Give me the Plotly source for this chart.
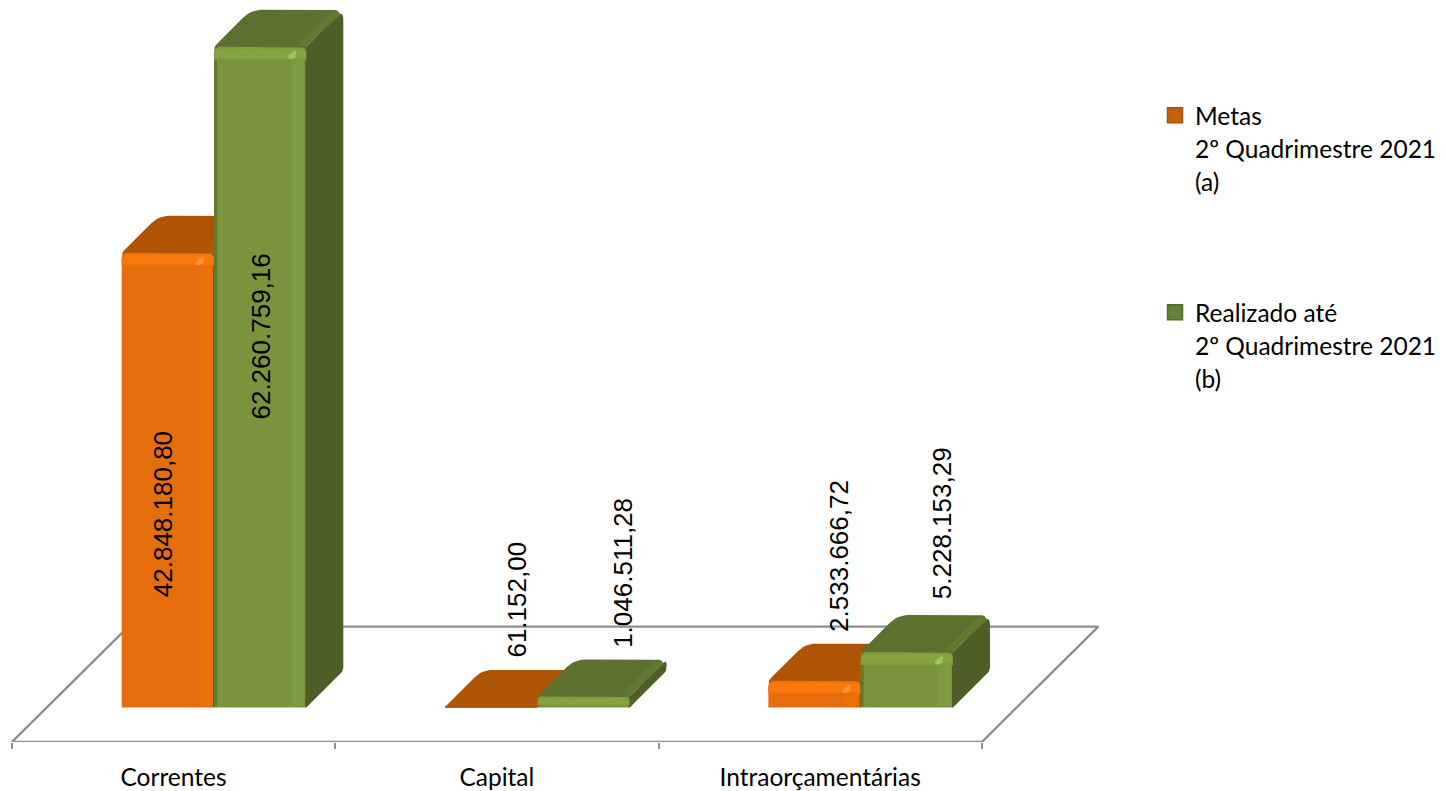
import math
import plotly.graph_objects as go

# ---------- data ----------
categories = ["Correntes", "Capital", "Intraorçamentárias"]
metas = [42848180.80, 61152.00, 2533666.72]
realizado = [62260759.16, 1046511.28, 5228153.29]
legend_first = ["Metas", "Realizado até"]
legend_rest = [["2º Quadrimestre 2021", "(a)"], ["2º Quadrimestre 2021", "(b)"]]

# ---------- scale / geometry (pixels) ----------
W, H = 1446, 791
PX_CAT = 323.33          # px per category
PX_VAL = 10.62 / 1e6     # px per unit of value
X0_PX = 173.5            # px of category 0
BASE_PX = 708.0          # px of value 0
AXIS_PX = 742.5          # px of plot bottom
DEPTH = 37.0             # px of bar depth
BAR_PX = 92.3
SHIFT_PX = 40.5
pos = list(range(len(categories)))

x_range = [-X0_PX / PX_CAT, (W - X0_PX) / PX_CAT]
y_range = [(BASE_PX - AXIS_PX) / PX_VAL, BASE_PX / PX_VAL]

# colours
OR = dict(main="#E56D0B", soft="#EB700A", mid="#F1730A", light="#FC780A", top="#AF5305", edge="#B55707",
          side="#8F4504", dark=None, spot="#FF9638")
GR = dict(main="#7A943E", soft="#7E9A40", mid="#7F9C40", light="#85A340", top="#5C7030", edge="#617A31",
          side="#4E5E27", dark="#62792F", spot="#A5C05E")
GREY = "#8E8E8E"


def rounded(pts):
    """pts: (x, y, r) in px; returns a smoothed outline."""
    out = []
    n = len(pts)
    for k in range(n):
        ax, ay, _ = pts[k - 1]
        px, py, r = pts[k]
        bx, by, _ = pts[(k + 1) % n]
        la = math.hypot(ax - px, ay - py)
        lb = math.hypot(bx - px, by - py)
        r = min(r, la / 2, lb / 2)
        if r <= 0:
            out.append((px, py))
            continue
        sx, sy = px + (ax - px) * r / la, py + (ay - py) * r / la
        ex, ey = px + (bx - px) * r / lb, py + (by - py) * r / lb
        for s in range(7):
            t = s / 6
            out.append(((1 - t) ** 2 * sx + 2 * t * (1 - t) * px + t * t * ex,
                        (1 - t) ** 2 * sy + 2 * t * (1 - t) * py + t * t * ey))
    return out


class Faces:
    def __init__(self):
        self.x, self.y = [], []

    def add(self, i, val, left_px, pts):
        """pts relative to the front-top-left corner of a bar: dx right, dy down, in px."""
        for dx, dy in rounded(pts):
            self.x.append(i + (left_px + dx) / PX_CAT)
            self.y.append(val - dy / PX_VAL)
        self.x.append(None)
        self.y.append(None)


def poly_trace(f, color, name, xa, ya):
    return go.Scatter(x=f.x, y=f.y, mode="lines", fill="toself", fillcolor=color,
                      line=dict(width=0, color=color), hoverinfo="skip", showlegend=False,
                      name=name, xaxis=xa, yaxis=ya)


def series(values, left_px, col, name, xa, ya):
    side, top, edge, soft, mid, light, dark, spot = (Faces() for _ in range(8))
    w = BAR_PX
    d = DEPTH
    for i, v in zip(pos, values):
        h = v * PX_VAL
        band = min(13, h * 0.8)
        lim = min(band, 8) if h > 6 else h
        side.add(i, v, left_px, [(w - 1, 0, 0), (w, 0, 0), (w + d, -d, 10), (w + d, h - d, 3),
                                 (w, h, 10), (w - 1, h, 0)])
        top.add(i, v, left_px, [(0, lim, 0), (0, 0, 10), (d, -d, 11), (w + d, -d, 11), (w, 0, 0), (w, lim, 0)])
        if h > 6:
            edge.add(i, v, left_px, [(w - 9, -1, 2), (w + d - 11, -d + 1, 4), (w + d - 1, -d + 3, 5), (w, -1, 2)])
            mid.add(i, v, left_px, [(0, 0, 7), (w, 0, 7), (w, band, 0), (0, band, 0)])
            light.add(i, v, left_px, [(1, 2, 6), (w - 1, 2, 6), (w - 1, band * 0.85, 0), (1, band * 0.85, 0)])
            soft.add(i, v, left_px, [(w - 15, band * 0.85, 0), (w - 2, band * 0.85, 0), (w - 2, h - 1, 6), (w - 15, h - 1, 0)])
            if col["dark"]:
                dark.add(i, v, left_px, [(0, band, 0), (3, band, 0), (3, h - 1, 0), (0, h - 1, 0)])
        if h > 20:
            spot.add(i, v, left_px, [(w - 18, 8, 3), (w - 10, 3, 3), (w - 10, 11, 3), (w - 18, 13, 3)])
    bar = go.Bar(x=pos, y=values, width=w / PX_CAT, offset=left_px / PX_CAT,
                 marker=dict(color=col["main"], line=dict(width=0)), name=name,
                 showlegend=False, hoverinfo="skip", xaxis=xa, yaxis=ya)
    out = [bar,
           poly_trace(side, col["side"], name + " lateral", xa, ya),
           poly_trace(top, col["top"], name + " topo", xa, ya),
           poly_trace(edge, col["edge"], name + " aresta", xa, ya),
           poly_trace(soft, col["soft"], name + " faixa", xa, ya),
           poly_trace(mid, col["mid"], name + " faixa superior", xa, ya),
           poly_trace(light, col["light"], name + " brilho", xa, ya)]
    if col["dark"]:
        out.append(poly_trace(dark, col["dark"], name + " sombra", xa, ya))
    out.append(poly_trace(spot, col["spot"], name + " reflexo", xa, ya))
    return out


# floor
fl_left = -0.5
fl_right = pos[-1] + 0.5
fl_bot = y_range[0]
fl_dx = 116.5 / PX_CAT
fl_dy = 115.5 / PX_VAL
floor = go.Scatter(x=[fl_left, fl_right, fl_right + fl_dx, fl_left + fl_dx, fl_left],
                   y=[fl_bot, fl_bot, fl_bot + fl_dy, fl_bot + fl_dy, fl_bot],
                   mode="lines", line=dict(color=GREY, width=2.4), hoverinfo="skip",
                   showlegend=False, name="Plano", cliponaxis=False)

left_or = SHIFT_PX - BAR_PX
left_gr = SHIFT_PX

traces = [floor]
traces += series(metas, left_or, OR, "Metas 2º Quadrimestre 2021 (a)", "x2", "y2")
traces += series(realizado, left_gr, GR, "Realizado até 2º Quadrimestre 2021 (b)", "x3", "y3")

# legend entries
legend_colors = [("#C4600E", "#A85208"), ("#66803A", "#526A2C")]
for nm, (c, lc) in zip(legend_first, legend_colors):
    traces.append(go.Scatter(x=[None], y=[None], mode="markers", name=nm, legendgroup=nm,
                             marker=dict(symbol="square", size=15, color=c, line=dict(color=lc, width=1.5))))

fig = go.Figure(traces)


def br(v):
    return f"{v:,.2f}".replace(",", "#").replace(".", ",").replace("#", ".")


# value labels: offset from bar's left edge and height of the text's lower end above base (px)
label_dx = [[41, 71, 70], [47, 85, 81]]
label_up = [[108, 48, 74], [286, 58, 106]]
annotations = []
for s, (vals, left) in enumerate([(metas, left_or), (realizado, left_gr)]):
    for i, v in zip(pos, vals):
        annotations.append(dict(text=br(v), x=i + left / PX_CAT, y=0, xref="x", yref="y",
                                xshift=label_dx[s][i], yshift=label_up[s][i], yanchor="bottom",
                                xanchor="center", textangle=-90, showarrow=False,
                                font=dict(family="Liberation Sans", size=26, color="#000000")))

# remaining legend lines
FONT_PX = 24.5
LINE_PITCH = 33
legend_tops = [149, 346]
for rest, y0 in zip(legend_rest, legend_tops):
    for k, line in enumerate(rest):
        annotations.append(dict(text=line, x=1195 / W, y=1 - (y0 + k * LINE_PITCH) / AXIS_PX,
                                xref="paper", yref="paper", xanchor="left", yanchor="middle",
                                showarrow=False, xshift=-2,
                                font=dict(family="Lato", size=FONT_PX, color="#000000")))

axis_hidden = dict(visible=False, showgrid=False, zeroline=False)
fig.update_layout(
    width=W, height=H, margin=dict(l=0, r=0, t=0, b=H - AXIS_PX, pad=0),
    paper_bgcolor="white", plot_bgcolor="white",
    barmode="overlay", barcornerradius=8, showlegend=True,
    legend=dict(x=1155 / W, y=1 - 93 / AXIS_PX, xanchor="left", yanchor="top",
                tracegroupgap=162, bgcolor="rgba(0,0,0,0)",
                font=dict(family="Lato", size=FONT_PX, color="#000000")),
    xaxis=dict(range=x_range, tickmode="array", tickvals=pos, ticktext=categories,
               ticks="", showgrid=False, zeroline=False, showline=False,
               tickfont=dict(family="Lato", size=FONT_PX, color="#000000"), ticklabelstandoff=18,
               minor=dict(tickmode="array", tickvals=[p - 0.5 for p in pos] + [pos[-1] + 0.5],
                          ticks="outside", ticklen=6, tickwidth=1.6, tickcolor=GREY, showgrid=False)),
    yaxis=dict(range=y_range, **axis_hidden),
    xaxis2=dict(range=x_range, overlaying="x", **axis_hidden),
    yaxis2=dict(range=y_range, overlaying="y", **axis_hidden),
    xaxis3=dict(range=x_range, overlaying="x", **axis_hidden),
    yaxis3=dict(range=y_range, overlaying="y", **axis_hidden),
    annotations=annotations,
)

fig.write_html("out.html", post_script="document.body.style.margin='0';",
               config=dict(displayModeBar=False))
